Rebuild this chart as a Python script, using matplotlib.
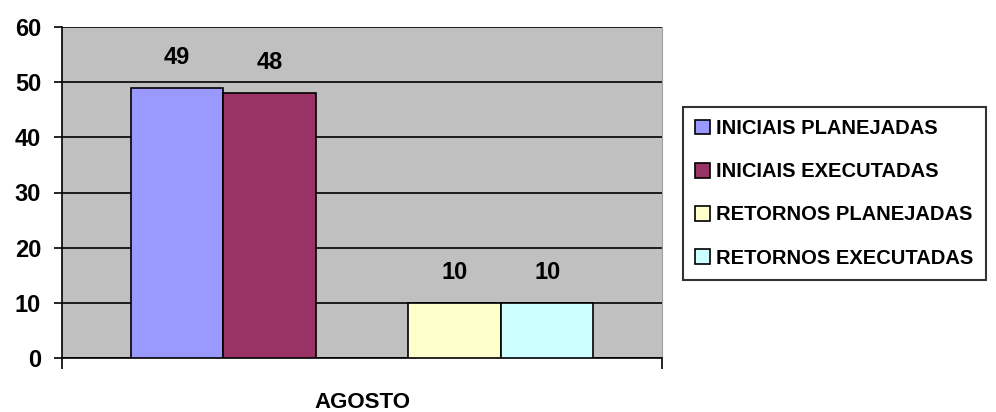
import matplotlib.pyplot as plt

plt.rcParams['font.family'] = ['Liberation Sans', 'DejaVu Sans']
plt.rcParams['font.weight'] = 'bold'

category = "AGOSTO"
series = ["INICIAIS PLANEJADAS", "INICIAIS EXECUTADAS",
          "RETORNOS PLANEJADAS", "RETORNOS EXECUTADAS"]
values = [49, 48, 10, 10]
offsets = [-2, -1, 1, 2]
colors = ['#9999FF', '#993366', '#FFFFCC', '#CCFFFF']

fig = plt.figure(figsize=(9.96, 4.12), dpi=100)
ax = fig.add_axes([62 / 996, 1 - 358 / 412, 600 / 996, 331 / 412])
ax.set_facecolor('#C0C0C0')

for off, val, col, name in zip(offsets, values, colors, series):
    ax.bar(off, val, width=1.0, color=col, edgecolor='black',
           linewidth=1.2, label=name, zorder=3)
    ax.annotate(str(val), (off, val), xytext=(0, 22), textcoords='offset points',
                ha='center', va='center', fontsize=17, fontweight='bold')

ax.set_xlim(-3.24, 3.24)
ax.set_ylim(0, 60)
ax.set_yticks(range(0, 61, 10))
ax.yaxis.grid(True, color='black', linewidth=1.2, zorder=1)
ax.set_axisbelow(True)
ax.tick_params(axis='y', length=6, width=1.2, labelsize=17, pad=9)
ax.set_xticks([-3.24, 3.24])
ax.set_xticklabels(['', ''])
ax.tick_params(axis='x', length=8, width=1.2, direction='out')
ax.text(0, -0.133, category, transform=ax.get_xaxis_transform(),
        ha='center', va='center', fontsize=16, fontweight='bold')

ax.spines['top'].set_visible(False)
ax.spines['right'].set_color('#A0A0A0')
ax.spines['left'].set_linewidth(1.2)
ax.spines['bottom'].set_linewidth(1.2)

leg = fig.legend(loc='upper left', bbox_to_anchor=(683 / 996, 1 - 107 / 412),
                 fontsize=14.5, frameon=True, fancybox=False, edgecolor='black',
                 handlelength=0.75, handleheight=0.75, handletextpad=0.3,
                 labelspacing=1.2, borderpad=0.6, borderaxespad=0)
leg.get_frame().set_linewidth(1.5)
for t in leg.get_texts():
    t.set_fontweight('bold')

fig.savefig('out.png', dpi=100)
